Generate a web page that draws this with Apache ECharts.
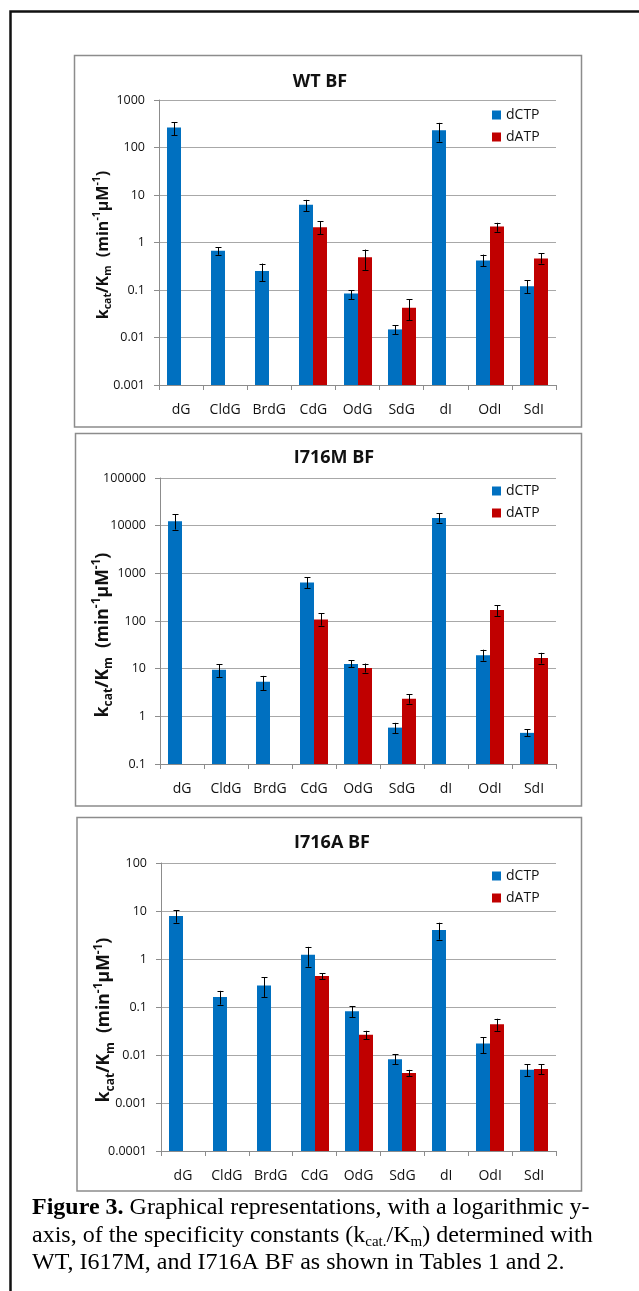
<!DOCTYPE html>
<html><head><meta charset="utf-8">
<script src="https://cdn.jsdelivr.net/npm/echarts@6/dist/echarts.min.js"></script>
<style>html,body{margin:0;padding:0;background:#fff}#c{width:639px;height:1291px}</style>
</head><body><div id="c"></div>
<script>
// ---------- DATA ----------
const categories = ['dG','CldG','BrdG','CdG','OdG','SdG','dI','OdI','SdI'];
const seriesNames = ['dCTP','dATP'];
const panelTitles = ['WT BF','I716M BF','I716A BF'];

// WT BF
const wtCTP   = [265, 0.67, 0.25, 6.2, 0.084, 0.0148, 232, 0.42, 0.12];
const wtCTPLo = [180, 0.55, 0.155, 4.6, 0.064, 0.0116, 133, 0.313, 0.085];
const wtCTPHi = [340, 0.79, 0.36, 7.9, 0.10, 0.0183, 330, 0.556, 0.16];
const wtATP   = [null, null, null, 2.1, 0.49, 0.0425, null, 2.17, 0.46];
const wtATPLo = [null, null, null, 1.5, 0.265, 0.0228, null, 1.68, 0.36];
const wtATPHi = [null, null, null, 2.8, 0.71, 0.0635, null, 2.6, 0.59];
const wtTicks = ['0.001','0.01','0.1','1','10','100','1000'];

// I716M BF
const mCTP   = [12400, 9.5, 5.3, 645, 12.6, 0.58, 14400, 19.1, 0.45];
const mCTPLo = [8300, 6.7, 3.55, 486, 10.7, 0.44, 11600, 14.7, 0.38];
const mCTPHi = [17300, 12.4, 7.05, 828, 15.1, 0.73, 18200, 25, 0.53];
const mATP   = [null, null, null, 107, 10.3, 2.34, null, 170, 16.8];
const mATPLo = [null, null, null, 80, 8.3, 1.85, null, 128, 12.8];
const mATPHi = [null, null, null, 144, 12.8, 2.9, null, 215, 21.5];
const mTicks = ['0.1','1','10','100','1000','10000','100000'];

// I716A BF
const aCTP   = [7.9, 0.162, 0.279, 1.22, 0.082, 0.0082, 4.03, 0.0173, 0.0049];
const aCTPLo = [5.7, 0.112, 0.162, 0.69, 0.061, 0.0064, 2.53, 0.0109, 0.00357];
const aCTPHi = [10.3, 0.217, 0.415, 1.79, 0.105, 0.0105, 5.7, 0.0237, 0.0064];
const aATP   = [null, null, null, 0.44, 0.0265, 0.0042, null, 0.0437, 0.0051];
const aATPLo = [null, null, null, 0.376, 0.0213, 0.00357, null, 0.0319, 0.004];
const aATPHi = [null, null, null, 0.51, 0.032, 0.0049, null, 0.0569, 0.0064];
const aTicks = ['0.0001','0.001','0.01','0.1','1','10','100'];

const yNameParts = ['k', 'cat', '/K', 'm', '  (min', '-1', 'μM', '-1', ')'];
const captionLine1 = ['Figure 3.', ' Graphical representations, with a logarithmic y-'];
const captionLine2 = ['axis, of the specificity constants (k', 'cat.', '/K', 'm', ') determined with'];
const captionLine3 = 'WT, I617M, and I716A BF as shown in Tables 1 and 2.';

// ---------- LAYOUT / STYLE ----------
const FONT = 'Open Sans';
const BLUE = '#0070C0', RED = '#C00000';
const AXIS_COLOR = '#8c8c8c', GRID_COLOR = '#a8a8a8';

const panels = [
  { ticks: wtTicks, ctp: [wtCTP, wtCTPLo, wtCTPHi], atp: [wtATP, wtATPLo, wtATPHi],
    grid: {left: 159, top: 100, width: 397, height: 285},
    box: [74.5, 55.5, 507, 371.5], titlePos: [320, 82], legendTop: 103,
    namePos: [103, 245], nameFont: [16, 10.5] },
  { ticks: mTicks, ctp: [mCTP, mCTPLo, mCTPHi], atp: [mATP, mATPLo, mATPHi],
    grid: {left: 160, top: 478, width: 396, height: 286},
    box: [75.5, 433.5, 506, 372.5], titlePos: [334, 458], legendTop: 479,
    namePos: [103, 635], nameFont: [17.5, 12] },
  { ticks: aTicks, ctp: [aCTP, aCTPLo, aCTPHi], atp: [aATP, aATPLo, aATPHi],
    grid: {left: 161, top: 863, width: 395, height: 288},
    box: [77, 817.5, 504.5, 373.5], titlePos: [332, 843], legendTop: 864,
    namePos: [104.5, 1020], nameFont: [17.5, 12] }
];

function toData(arrs) {
  const [v, lo, hi] = arrs;
  const out = [];
  v.forEach((val, i) => { if (val != null) out.push([i, val, lo[i], hi[i]]); });
  return out;
}

function makeRender(offset, yMin) {
  return function (params, api) {
    const c = api.value(0), v = api.value(1), lo = api.value(2), hi = api.value(3);
    const p = api.coord([c, v]);
    const b = api.coord([c, yMin]);
    const bw = 14, cap = 3;
    const x = Math.round(p[0] + offset) + 0.5;
    const pl = api.coord([c, lo]), ph = api.coord([c, hi]);
    return {
      type: 'group',
      children: [
        { type: 'rect', shape: { x: x - 0.5 - bw / 2, y: p[1], width: bw, height: b[1] - p[1] },
          style: { fill: api.visual('color') } },
        { type: 'line', shape: { x1: x, y1: ph[1], x2: x, y2: pl[1] }, style: { stroke: '#000', lineWidth: 1 } },
        { type: 'line', shape: { x1: x - cap, y1: Math.round(ph[1]) + 0.5, x2: x + cap, y2: Math.round(ph[1]) + 0.5 }, style: { stroke: '#000', lineWidth: 1 } },
        { type: 'line', shape: { x1: x - cap, y1: Math.round(pl[1]) + 0.5, x2: x + cap, y2: Math.round(pl[1]) + 0.5 }, style: { stroke: '#000', lineWidth: 1 } }
      ]
    };
  };
}

function nameRich(main, small) {
  return {
    k:   { fontSize: main, fontWeight: 'bold', fontFamily: FONT, fill: '#111', lineHeight: Math.round(main * 1.35), verticalAlign: 'middle' },
    sub: { fontSize: small, fontWeight: 'bold', fontFamily: FONT, fill: '#111', verticalAlign: 'bottom' },
    sup: { fontSize: small, fontWeight: 'bold', fontFamily: FONT, fill: '#111', verticalAlign: 'top' }
  };
}
const yNameStyles = ['k', 'sub', 'k', 'sub', 'k', 'sup', 'k', 'sup', 'k'];
const yNameText = yNameParts.map((t, i) => '{' + yNameStyles[i] + '|' + t + '}').join('');

const grids = [], xAxes = [], yAxes = [], series = [], legends = [], graphics = [];

// outer frame
graphics.push({ type: 'polyline', shape: { points: [[10.5, 1300], [10.5, 11.5], [650, 11.5]] },
  style: { stroke: '#111', lineWidth: 2.5, fill: null }, z: 10 });

panels.forEach((P, i) => {
  const minExp = Math.round(Math.log10(Number(P.ticks[0])));
  const yMin = Number(P.ticks[0]), yMax = Number(P.ticks[P.ticks.length - 1]);
  grids.push(P.grid);
  xAxes.push({
    type: 'category', gridIndex: i, data: categories, boundaryGap: true,
    axisLine: { lineStyle: { color: AXIS_COLOR, width: 1 } },
    axisTick: { show: true, length: 5, interval: 0, lineStyle: { color: AXIS_COLOR } },
    axisLabel: { interval: 0, fontSize: 14, fontFamily: FONT, color: '#111', margin: 18 },
    splitLine: { show: false }
  });
  yAxes.push({
    type: 'log', logBase: 10, gridIndex: i, min: yMin, max: yMax, splitNumber: 6,
    axisLine: { show: true, lineStyle: { color: AXIS_COLOR, width: 1 } },
    axisTick: { show: true, length: 5, lineStyle: { color: AXIS_COLOR } },
    minorTick: { show: false },
    splitLine: { show: true, lineStyle: { color: GRID_COLOR, width: 1 } },
    axisLabel: { fontSize: 12.5, fontFamily: FONT, color: '#111', margin: 14,
      formatter: v => P.ticks[Math.round(Math.log10(v)) - minExp] }
  });
  series.push({
    type: 'custom', name: seriesNames[0], xAxisIndex: i, yAxisIndex: i,
    itemStyle: { color: BLUE }, data: toData(P.ctp), renderItem: makeRender(-7, yMin), z: 3
  });
  series.push({
    type: 'custom', name: seriesNames[1], xAxisIndex: i, yAxisIndex: i,
    itemStyle: { color: RED }, data: toData(P.atp), renderItem: makeRender(7, yMin), z: 3
  });
  legends.push({
    data: seriesNames, orient: 'vertical', left: 487, top: P.legendTop,
    icon: 'rect', itemWidth: 9, itemHeight: 9, itemGap: 8, selectedMode: false,
    textStyle: { fontSize: 14, fontFamily: FONT, color: '#111' }
  });
  graphics.push({ type: 'rect', shape: { x: P.box[0], y: P.box[1], width: P.box[2], height: P.box[3] },
    style: { stroke: '#8c8c8c', lineWidth: 1.5, fill: null }, z: 10 });
  graphics.push({ type: 'text', x: P.titlePos[0], y: P.titlePos[1],
    style: { text: panelTitles[i], fontSize: 18, fontWeight: 'bold', fontFamily: FONT, fill: '#111',
      align: 'center', verticalAlign: 'middle' }, z: 10 });
  graphics.push({ type: 'text', x: P.namePos[0], y: P.namePos[1], rotation: Math.PI / 2,
    style: { text: yNameText, rich: nameRich(P.nameFont[0], P.nameFont[1]),
      align: 'center', verticalAlign: 'middle' }, z: 10 });
});

// caption
const capRich = {
  n: { fontSize: 24, fontFamily: 'Liberation Serif', fill: '#000', lineHeight: 28 },
  b: { fontSize: 24, fontFamily: 'Liberation Serif', fontWeight: 'bold', fill: '#000', lineHeight: 28 },
  s: { fontSize: 15, fontFamily: 'Liberation Serif', fill: '#000', verticalAlign: 'bottom' }
};
graphics.push({ type: 'text', x: 32, y: 1208, z: 10,
  style: { text: '{b|' + captionLine1[0] + '}{n|' + captionLine1[1] + '}', rich: capRich, verticalAlign: 'middle' } });
graphics.push({ type: 'text', x: 32, y: 1236, z: 10,
  style: { text: '{n|' + captionLine2[0] + '}{s|' + captionLine2[1] + '}{n|' + captionLine2[2] + '}{s|' + captionLine2[3] + '}{n|' + captionLine2[4] + '}', rich: capRich, verticalAlign: 'middle' } });
graphics.push({ type: 'text', x: 32, y: 1263, z: 10,
  style: { text: '{n|' + captionLine3 + '}', rich: capRich, verticalAlign: 'middle' } });

const chart = echarts.init(document.getElementById('c'), null, { renderer: 'canvas' });
chart.setOption({
  animation: false,
  backgroundColor: '#fff',
  grid: grids, xAxis: xAxes, yAxis: yAxes, series: series, legend: legends,
  graphic: { elements: graphics }
});
</script>
</body></html>
